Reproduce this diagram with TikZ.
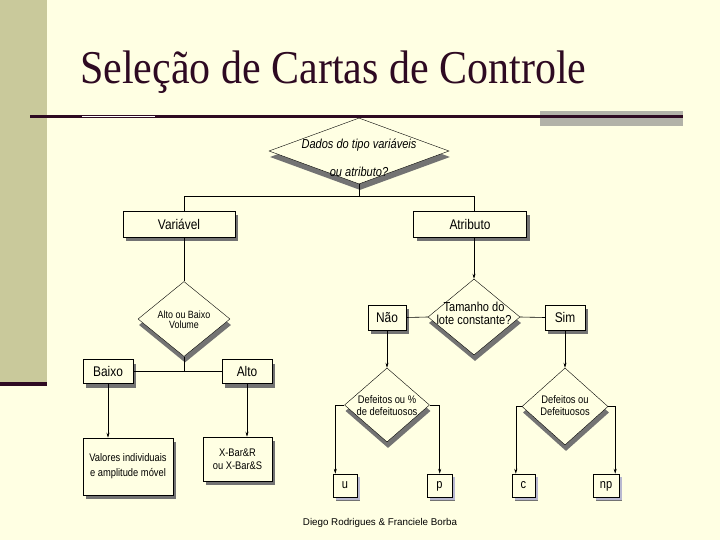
\documentclass[tikz,border=0pt]{standalone}
\usepackage{fontspec}
\setmainfont{Liberation Serif}
\setsansfont{Liberation Sans}
\newfontfamily\flfont{Liberation Sans}[FakeStretch=0.85]
\usetikzlibrary{arrows.meta,shapes.geometric,shadows}
\definecolor{bgyel}{HTML}{FFFFE3}
\definecolor{barol}{HTML}{C9C99B}
\definecolor{ttlred}{HTML}{2E0A22}
\definecolor{shgray}{HTML}{737373}
\definecolor{bargray}{HTML}{B2B2A8}
\definecolor{shlila}{HTML}{B8B8D0}
% text of a diamond, kept out of the shape size
\newcommand\dtxt[2][0pt]{\smash{\makebox[0pt]{\raisebox{#1}{\begin{tabular}{@{}c@{}}#2\end{tabular}}}}}

\begin{document}
\begin{tikzpicture}[x=1pt,y=-1pt,>={Stealth[length=5pt,width=3pt]},line width=0.6pt,
		every node/.style={font=\flfont},
		flbox/.style={draw,fill=bgyel,inner sep=0pt,line width=0.5pt,
			font=\flfont\fontsize{14}{16}\selectfont,
			drop shadow={shadow xshift=3pt,shadow yshift=-4pt,fill=shgray,opacity=1}},
		smbox/.style={flbox,minimum width=24pt,minimum height=23pt,text height=9pt,text depth=2.5pt,
			font=\flfont\fontsize{13}{15}\selectfont,
			drop shadow={shadow xshift=3pt,shadow yshift=-3pt,fill=shlila,opacity=1}},
		dia/.style={diamond,draw,fill=bgyel,inner sep=0pt,line width=0.4pt,
			drop shadow={shadow xshift=1pt,shadow yshift=-6pt,fill=shgray,opacity=1}}]
	\useasboundingbox (0,0) rectangle (720,540);
	\fill[bgyel] (0,0) rectangle (720,540);
	% left band and title rule
	\fill[barol] (0,0) rectangle (47,382);
	\fill[ttlred] (0,382) rectangle (47,386);
	\fill[bargray] (540,111) rectangle (683,126);
	\draw[ttlred,line width=3pt] (30,117) -- (683,117);
	\draw[white,line width=0.8pt] (82,116.6) -- (155,116.6);
	\node[anchor=base west,inner sep=0pt,text=ttlred,font=\rmfamily\fontsize{42}{48}\selectfont] (title) at (80,84)
		{\scalebox{1}[1.12]{Seleção de Cartas de Controle}};

	% first question
	\node[dia,minimum width=180pt,minimum height=66pt,font=\flfont\itshape\fontsize{13}{13}\selectfont] (q1) at (359,151)
		{\dtxt[-12pt]{Dados do tipo variáveis\\[15pt] ou atributo?}};
	\node[flbox,minimum width=112pt,minimum height=26pt] (var) at (179,224) {Variável};
	\node[flbox,minimum width=113pt,minimum height=26pt] (atr) at (470,224) {Atributo};

	% variable branch
	\node[dia,minimum width=92pt,minimum height=75pt,font=\flfont\fontsize{10.5}{9.5}\selectfont] (q2) at (184,319)
		{\dtxt[-5pt]{Alto ou Baixo\\Volume}};
	\node[flbox,minimum width=50pt,minimum height=24pt] (baixo) at (108,371.5) {Baixo};
	\node[flbox,minimum width=50pt,minimum height=24pt] (alto) at (247,371.5) {Alto};
	\node[flbox,minimum width=90pt,minimum height=57pt,font=\flfont\fontsize{11}{15}\selectfont,align=center] (vals) at (128,466.5)
		{Valores individuais\\e amplitude móvel};
	\node[flbox,minimum width=69pt,minimum height=44pt,font=\flfont\fontsize{11}{13.5}\selectfont,align=center] (xbar) at (237.5,459)
		{X-Bar\&R\\ou X-Bar\&S};

	% attribute branch
	\node[dia,minimum width=92pt,minimum height=76pt,font=\flfont\fontsize{13}{12.5}\selectfont] (q3) at (474,317)
		{\dtxt[-1pt]{Tamanho do\\lote constante?}};
	\node[flbox,minimum width=38pt,minimum height=25pt] (nao) at (387,317.5) {Não};
	\node[flbox,minimum width=40pt,minimum height=25pt] (sim) at (565,317.5) {Sim};
	\node[dia,minimum width=85pt,minimum height=74pt,font=\flfont\fontsize{11}{12}\selectfont] (q4) at (387,405)
		{\dtxt[-5pt]{Defeitos ou \%\\de defeituosos}};
	\node[dia,minimum width=86pt,minimum height=77pt,font=\flfont\fontsize{11}{12}\selectfont,drop shadow={opacity=0}] (q5) at (565,406.5)
		{\dtxt[-3pt]{Defeitos ou\\Defeituosos}};
	\node[smbox] (u) at (345,485.5) {u};
	\node[smbox,minimum width=25pt] (p) at (439.5,485.5) {p};
	\node[smbox,minimum width=23pt] (c) at (523.5,485.5) {c};
	\node[smbox,minimum width=26pt] (np) at (606,485.5) {np};

	% connectors
	\draw (q1.south) -- ++(0,12) coordinate (tr) -| (var.north -| q2.north);
	\draw (tr) -| (atr.north -| q3.north);
	\draw (var.south -| q2.north) -- (q2.north);
	\draw[->] (atr.south -| q3.north) -- (q3.north);
	\draw (q2.south) -- (q2.south |- baixo.east);
	\draw (baixo.east) -- (alto.west);
	\draw[->] (baixo.south) -- (baixo.south |- vals.north);
	\draw[->] (alto.south) -- (alto.south |- xbar.north);
	\draw (nao.east) -- (q3.west);
	\draw (q3.east) -- (sim.west);
	\draw[->] (nao.south) -- (q4.north);
	\draw[->] (sim.south) -- (q5.north);
	\draw[->] (q4.west) -- ++(-9,0) coordinate (uk) -- (uk |- u.north);
	\draw[->] (q4.east) -- ++(10,0) coordinate (pk) -- (pk |- p.north);
	\draw[->] (q5.west) -- ++(-6,0) coordinate (ck) -- (ck |- c.north);
	\draw[->] (q5.east) -- ++(7,0) coordinate (nk) -- (nk |- np.north);

	\node[font=\sffamily\fontsize{9.8}{11}\selectfont] (foot) at (380,523) {Diego Rodrigues \& Franciele Borba};
\end{tikzpicture}
\end{document}
